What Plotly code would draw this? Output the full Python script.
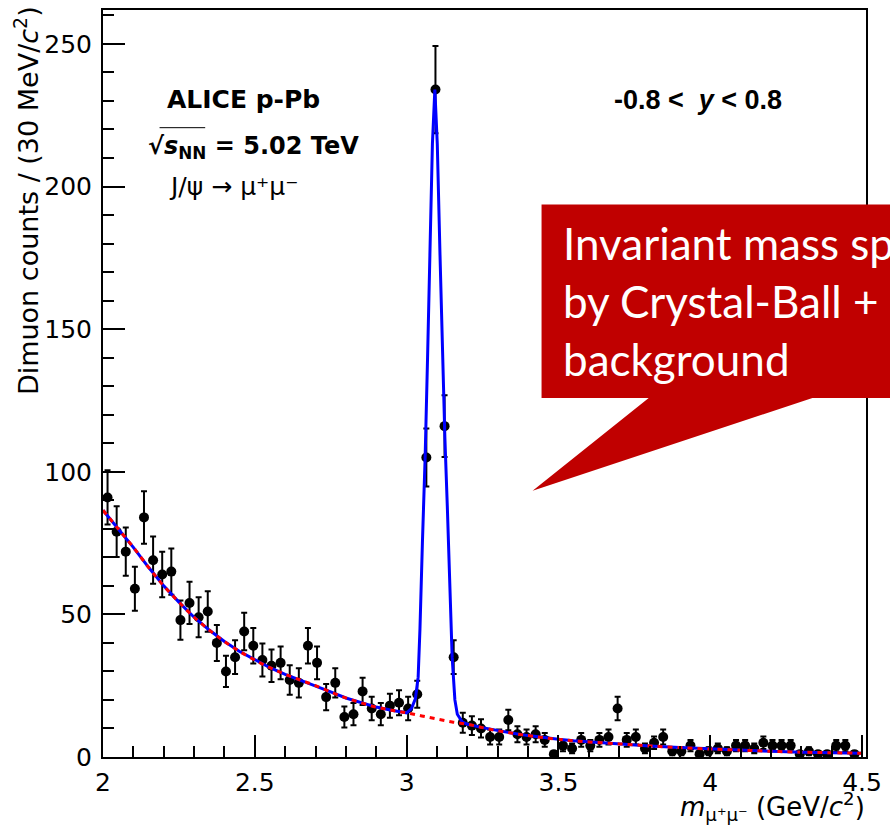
import plotly.graph_objects as go

# ---------------- data ----------------
bin_low = 2.0
bin_width = 0.03  # 30 MeV/c^2 bins

counts = [91, 79, 72, 59, 84, 69, 64, 65, 48, 54,
          49, 51, 40, 30, 35, 44, 39, 34, 32, 33,
          27, 26, 39, 33, 21, 26, 14, 15, 23, 17,
          15, 18, 19, 17, 22, 105, 234, 116, 35, 12,
          11, 10, 7, 7, 13, 8, 7, 8, 6, 1,
          4, 3, 6, 4, 6, 7, 17, 6, 7, 3,
          5, 7, 2, 2, 4, 1, 2, 3, 2, 4,
          4, 3, 5, 4, 4, 4, 1, 2, 1, 1,
          4, 4, 1]
errors = [9.5, 8.9, 8.5, 7.7, 9.2, 8.3, 8.0, 8.1, 6.9, 7.4,
          7.0, 7.1, 6.3, 5.5, 5.9, 6.6, 6.2, 5.8, 5.7, 5.7,
          5.2, 5.1, 6.2, 5.7, 4.6, 5.1, 3.7, 3.9, 4.8, 4.1,
          3.9, 4.2, 4.4, 4.1, 4.7, 10.2, 15.3, 10.8, 5.9, 3.5,
          3.3, 3.2, 2.6, 2.6, 3.6, 2.8, 2.6, 2.8, 2.4, 1.0,
          2.0, 1.7, 2.4, 2.0, 2.4, 2.6, 4.1, 2.4, 2.6, 1.7,
          2.2, 2.6, 1.4, 1.4, 2.0, 1.0, 1.4, 1.7, 1.4, 2.0,
          2.0, 1.7, 2.2, 2.0, 2.0, 2.0, 1.0, 1.4, 1.0, 1.0,
          2.0, 2.0, 1.0]
bin_centers = [round(bin_low + bin_width * (i + 0.5), 4) for i in range(len(counts))]

# background fit (red dashed)
bkg_x = [2.00, 2.05, 2.10, 2.15, 2.20, 2.25, 2.30, 2.35, 2.40, 2.45,
         2.50, 2.55, 2.60, 2.65, 2.70, 2.75, 2.80, 2.85, 2.90, 2.95,
         3.00, 3.05, 3.10, 3.15, 3.20, 3.25, 3.30, 3.35, 3.40, 3.45,
         3.50, 3.55, 3.60, 3.70, 3.80, 3.90, 4.00, 4.10, 4.20, 4.30,
         4.40, 4.50]
bkg_y = [86.5, 80.0, 73.5, 66.5, 60.0, 54.3, 49.0, 44.5, 40.5, 37.0,
         34.0, 31.3, 29.0, 27.0, 25.0, 22.8, 20.7, 19.0, 17.5, 16.4,
         15.5, 14.4, 13.3, 12.3, 11.5, 10.3, 9.2, 8.3, 7.5, 6.8,
         6.2, 5.7, 5.3, 4.6, 3.9, 3.3, 2.8, 2.4, 2.0, 1.7,
         1.5, 1.3]

# total fit (blue) in the J/psi peak region
peak_x = [3.000, 3.016, 3.029, 3.038, 3.044, 3.052, 3.061, 3.069, 3.077,
          3.085, 3.093, 3.101, 3.110, 3.118, 3.126, 3.134, 3.142, 3.150,
          3.159, 3.167, 3.183]
peak_y = [15.5, 17.0, 20.5, 28.0, 45.0, 75.0, 105.0, 140.0, 178.0,
          215.0, 234.0, 215.0, 176.0, 140.0, 112.0, 88.0, 60.0, 35.0,
          20.0, 15.0, 12.3]

# ---------------- geometry helpers (pixel frame of the reference) ----------------
W, H = 890, 836
PL, PR, PT, PB = 103, 872, 8, 757
PX_PER_X = 306.0
PX_PER_Y = 2.86


def px(xp):
    return (xp - PL) / (PR - PL)


def py(yp):
    return (PB - yp) / (PB - PT)


# total curve = background outside the peak + peak points
tot_x = [x for x in bkg_x if x < peak_x[0]] + peak_x + [x for x in bkg_x if x > peak_x[-1]]
tot_y = [y for x, y in zip(bkg_x, bkg_y) if x < peak_x[0]] + peak_y + \
        [y for x, y in zip(bkg_x, bkg_y) if x > peak_x[-1]]

fig = go.Figure()

fig.add_trace(go.Scatter(
    x=bin_centers, y=counts, mode="markers",
    marker=dict(color="black", size=10, symbol="circle"),
    error_y=dict(type="data", array=errors, color="black", thickness=2, width=3),
    showlegend=False, cliponaxis=True,
))
fig.add_trace(go.Scatter(
    x=tot_x, y=tot_y, mode="lines",
    line=dict(color="#0000ff", width=3),
    showlegend=False,
))
fig.add_trace(go.Scatter(
    x=bkg_x, y=bkg_y, mode="lines",
    line=dict(color="#ff0000", width=3, dash="5px,5px", shape="spline"),
    showlegend=False,
))

tick_font = dict(family="DejaVu Sans", size=25, color="black")

fig.update_xaxes(
    range=[2, 2 + (PR - PL) / PX_PER_X],
    tickmode="linear", tick0=2, dtick=0.5,
    ticks="inside", ticklen=22, tickwidth=2, tickcolor="black",
    minor=dict(ticks="inside", dtick=0.1, ticklen=11, tickwidth=2, tickcolor="black", showgrid=False),
    showline=True, linecolor="black", linewidth=2, mirror=True,
    showgrid=False, zeroline=False,
    tickfont=tick_font, ticklabelstandoff=2,
)
fig.update_yaxes(
    range=[0, (PB - PT) / PX_PER_Y],
    tickmode="linear", tick0=0, dtick=50,
    ticks="inside", ticklen=22, tickwidth=2, tickcolor="black",
    minor=dict(ticks="inside", dtick=10, ticklen=11, tickwidth=2, tickcolor="black", showgrid=False),
    showline=True, linecolor="black", linewidth=2, mirror=True,
    showgrid=False, zeroline=False,
    tickfont=tick_font, ticklabelstandoff=4,
)

annotations = [
    # axis titles
    dict(text="Dimuon counts / (30 MeV/<i>c</i><sup>2</sup>)", textangle=-90,
         x=px(26), y=py(2), xanchor="center", yanchor="top",
         font=dict(family="DejaVu Sans", size=27, color="black")),
    dict(text="<i>m</i><sub>μ⁺μ⁻</sub> (GeV/<i>c</i><sup>2</sup>)",
         x=px(873), y=py(807), xanchor="right", yanchor="middle",
         font=dict(family="DejaVu Sans", size=26, color="black")),
    # labels inside the frame
    dict(text="<b>ALICE p-Pb</b>", x=px(245), y=py(98), xanchor="center", yanchor="middle",
         font=dict(family="DejaVu Sans", size=25, color="black")),
    dict(text="<b>√<i>s</i><sub>NN</sub> = 5.02 TeV</b>", x=px(146), y=py(146),
         xanchor="left", yanchor="middle",
         font=dict(family="DejaVu Sans", size=24, color="black")),
    dict(text="J/ψ → μ⁺μ⁻", x=px(168), y=py(185), xanchor="left", yanchor="middle",
         font=dict(family="DejaVu Sans", size=25, color="black")),
    dict(text="<b>-0.8 <  <i>y</i> < 0.8</b>", x=px(703), y=py(98), xanchor="center", yanchor="middle",
         font=dict(family="Liberation Sans", size=27, color="black")),
    # callout text (runs past the right edge, as in the reference)
    dict(text="Invariant mass spectrum", x=px(565), y=py(242), xanchor="left", yanchor="middle",
         font=dict(family="Lato", size=44, color="white")),
    dict(text="by Crystal-Ball + exponential", x=px(565), y=py(300), xanchor="left", yanchor="middle",
         font=dict(family="Lato", size=44, color="white")),
    dict(text="background", x=px(565), y=py(358), xanchor="left", yanchor="middle",
         font=dict(family="Lato", size=44, color="white")),
]
for a in annotations:
    a.update(xref="paper", yref="paper", showarrow=False)

callout = [(545, 203), (905, 203), (905, 397), (818, 397), (536, 490), (653, 397), (545, 397)]
path = "M " + " L ".join(f"{px(a):.5f},{py(b):.5f}" for a, b in callout) + " Z"

shapes = [
    dict(type="path", path=path, xref="paper", yref="paper",
         fillcolor="#c00000", line=dict(width=0), layer="above"),
    # overline of the square root
    dict(type="line", xref="paper", yref="paper", x0=px(160), x1=px(206), y0=py(126), y1=py(126),
         line=dict(color="black", width=1), layer="above"),
]

fig.update_layout(
    width=W, height=H, autosize=False,
    margin=dict(l=PL, r=W - PR, t=PT, b=H - PB, pad=0),
    paper_bgcolor="white", plot_bgcolor="white",
    annotations=annotations, shapes=shapes,
    showlegend=False,
)

fig.write_html("out.html")
